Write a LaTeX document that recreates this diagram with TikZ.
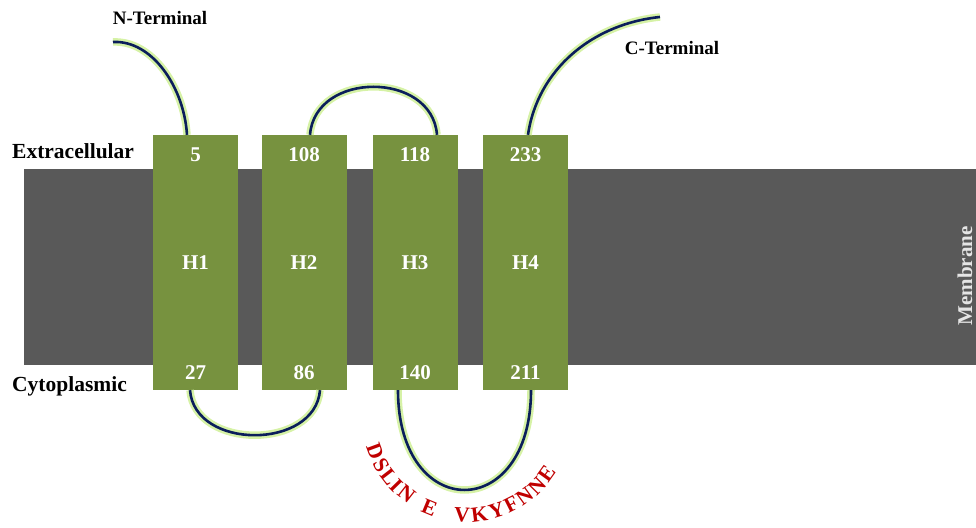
\documentclass[tikz,border=0pt]{standalone}
\usepackage{fontspec}
\setmainfont{Liberation Serif}
\usetikzlibrary{calc}
\definecolor{membr}{HTML}{595959}
\definecolor{helix}{HTML}{77923F}
\definecolor{navy}{HTML}{0B1E5B}
\definecolor{glowc}{HTML}{D6F2A6}
\definecolor{seqred}{HTML}{C00000}
\tikzset{
  helixbox/.style={fill=helix, draw=none, minimum width=85pt, minimum height=255pt, inner sep=0pt,
    text=white, font=\fontsize{21}{21}\selectfont\bfseries},
  numtxt/.style={text=white, font=\fontsize{21}{21}\selectfont\bfseries, inner sep=0pt},
  sidetxt/.style={font=\fontsize{21.5}{21.5}\selectfont\bfseries, inner sep=0pt, anchor=west},
  termtxt/.style={font=\fontsize{19}{19}\selectfont\bfseries, inner sep=0pt},
  strand/.style={draw=navy, line width=2.6pt, preaction={draw=glowc, line width=7.5pt}},
  seqlet/.style={text=seqred, font=\fontsize{21.5}{21.5}\selectfont\bfseries, inner sep=0pt}
}
\begin{document}
\begin{tikzpicture}[x=1pt,y=1pt]
\useasboundingbox (0,0) rectangle (976,527);
% membrane
\node[fill=membr, draw=none, minimum width=952pt, minimum height=196pt, inner sep=0pt, anchor=south west] (mem) at (24,162) {};
\node[text=white!90!black, font=\fontsize{21}{21}\selectfont\bfseries, rotate=90, inner sep=0pt] (memlbl) at (965,251) {Membrane};
% helices
\node[helixbox] (h1) at (195.5,264.5) {H1};
\node[helixbox] (h2) at (304,264.5) {H2};
\node[helixbox] (h3) at (415,264.5) {H3};
\node[helixbox] (h4) at (525.5,264.5) {H4};
\foreach \h/\t/\b in {h1/5/27, h2/108/86, h3/118/140, h4/233/211}{
  \node[numtxt] (\h t) at ($(\h.north)+(0,-20)$) {\t};
  \node[numtxt] (\h b) at ($(\h.south)+(0,18)$) {\b};
}
% side labels
\node[sidetxt] (extra) at (12,376) {Extracellular};
\node[sidetxt] (cyto) at (12,141) {Cytoplasmic};
\node[termtxt] (nlbl) at (160,509) {N-Terminal};
\node[termtxt] (clbl) at (672,479) {C-Terminal};
% strands
\coordinate (nend) at (113,485);
\coordinate (cend) at (660,510);
\draw[strand] (nend) .. controls (152,487) and (184,440) .. ($(h1.north)+(-8.5,0)$);
\draw[strand] ($(h2.north)+(6,0)$) .. controls ($(h2.north)+(11,64)$) and ($(h3.north)+(17,64)$) .. ($(h3.north)+(22,0)$);
\draw[strand] ($(h4.north)+(2.5,0)$) .. controls ($(h4.north)+(12,65)$) and (592,503) .. (cend);
\draw[strand] ($(h1.south)+(-5.5,0)$) .. controls ($(h1.south)+(-1,-60)$) and ($(h2.south)+(11,-60)$) .. ($(h2.south)+(16,0)$);
\draw[strand] ($(h3.south)+(-17,0)$) .. controls ($(h3.south)+(-17,-133)$) and ($(h4.south)+(5.5,-133)$) .. ($(h4.south)+(5.5,0)$);
% sequence along arc
\coordinate (arcc) at (467,110);
\foreach \a/\l in {200.3/D, 209.8/S, 217.5/L, 224.2/I, 231.9/N, 247.5/E, 267.1/V, 277.4/K, 287.6/Y, 296.8/F, 306.0/N, 315.6/N, 324.5/E}{
  \node[seqlet, rotate=\a+90] at ($(arcc)+(\a:98)$) {\l};
}
\end{tikzpicture}
\end{document}
